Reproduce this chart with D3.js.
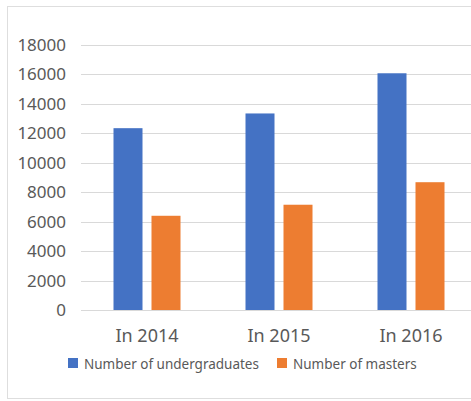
<!DOCTYPE html>
<html>
<head>
<meta charset="utf-8">
<script src="https://cdn.jsdelivr.net/npm/d3@7"></script>
<style>
  html, body { margin: 0; padding: 0; background: #fff; }
  svg { display: block; font-family: "Noto Sans", sans-serif; }
</style>
</head>
<body>
<svg id="chart" width="471" height="401"></svg>
<script>
// Graduates per year, by degree level
const years = ["In 2014", "In 2015", "In 2016"];
const seriesNames = ["Number of undergraduates", "Number of masters"];
const undergraduates = [12350, 13350, 16080];
const masters = [6400, 7150, 8680];
const yTicks = [0, 2000, 4000, 6000, 8000, 10000, 12000, 14000, 16000, 18000];
const colors = ["#4472c4", "#ed7d31"];

const svg = d3.select("#chart");

// chart frame
svg.append("rect")
  .attr("x", 7.5).attr("y", 6.5)
  .attr("width", 480).attr("height", 392)
  .attr("fill", "#fff")
  .attr("stroke", "#dedede");

const plot = { left: 81, right: 477, top: 45, bottom: 310 };

const x0 = d3.scaleBand().domain(years).range([plot.left, plot.right]).padding(0);
const x1 = d3.scaleBand().domain(seriesNames)
  .range([32.5, x0.bandwidth() - 32.5])
  .paddingInner(9 / 38).paddingOuter(0);
const y = d3.scaleLinear().domain([0, 18000]).range([plot.bottom, plot.top]);

// horizontal gridlines
svg.append("g")
  .selectAll("line")
  .data(yTicks)
  .join("line")
  .attr("x1", plot.left).attr("x2", plot.right)
  .attr("y1", d => Math.round(y(d)) + 0.5)
  .attr("y2", d => Math.round(y(d)) + 0.5)
  .attr("stroke", "#d9d9d9")
  .attr("stroke-width", 1);

// y axis labels
const yAxis = d3.axisLeft(y).tickValues(yTicks).tickSize(0).tickPadding(15).tickFormat(d3.format("d"));
svg.append("g")
  .attr("transform", `translate(${plot.left},0)`)
  .call(yAxis)
  .call(g => g.select(".domain").remove())
  .call(g => g.selectAll("text")
    .attr("fill", "#595959")
    .attr("font-size", 17)
    .attr("font-family", "Noto Sans, sans-serif"));

// bars
const data = years.map((yr, i) => ({ year: yr, values: [undergraduates[i], masters[i]] }));
svg.append("g")
  .selectAll("g")
  .data(data)
  .join("g")
  .attr("transform", d => `translate(${x0(d.year)},0)`)
  .selectAll("rect")
  .data(d => d.values.map((v, j) => ({ name: seriesNames[j], value: v, j })))
  .join("rect")
  .attr("x", d => x1(d.name))
  .attr("width", x1.bandwidth())
  .attr("y", d => y(d.value))
  .attr("height", d => y(0) - y(d.value))
  .attr("fill", d => colors[d.j]);

// x axis labels
const xAxis = d3.axisBottom(x0).tickSize(0).tickPadding(19);
svg.append("g")
  .attr("transform", `translate(0,${plot.bottom})`)
  .call(xAxis)
  .call(g => g.select(".domain").remove())
  .call(g => g.selectAll("text")
    .attr("fill", "#595959")
    .attr("font-size", 18)
    .attr("font-family", "Noto Sans, sans-serif"));

// legend
const legendX = [68, 277];
const legend = svg.append("g")
  .selectAll("g")
  .data(seriesNames)
  .join("g")
  .attr("transform", (d, i) => `translate(${legendX[i]},358)`);
legend.append("rect")
  .attr("width", 10).attr("height", 10)
  .attr("fill", (d, i) => colors[i]);
legend.append("text")
  .attr("x", 16).attr("y", 6)
  .attr("dy", "0.35em")
  .attr("fill", "#595959")
  .attr("font-size", 13.5)
  .text(d => d);
</script>
</body>
</html>
